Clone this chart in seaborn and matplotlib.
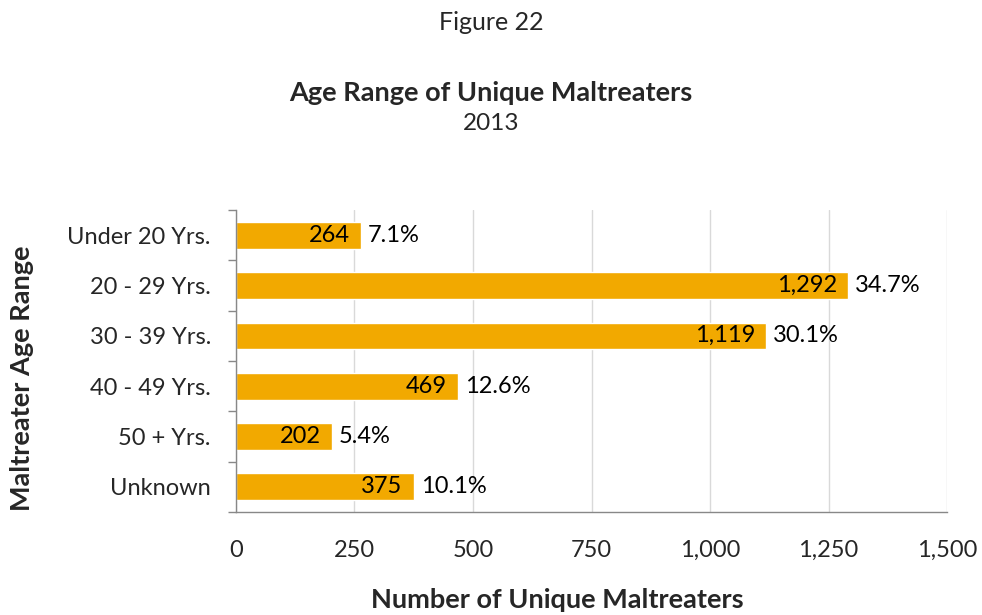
import matplotlib
matplotlib.use("Agg")
import matplotlib.pyplot as plt
import seaborn as sns
import pandas as pd
import numpy as np

categories = ["Under 20 Yrs.", "20 - 29 Yrs.", "30 - 39 Yrs.", "40 - 49 Yrs.", "50 + Yrs.", "Unknown"]
counts = [264, 1292, 1119, 469, 202, 375]
percents = ["7.1%", "34.7%", "30.1%", "12.6%", "5.4%", "10.1%"]
xticks = [0, 250, 500, 750, 1000, 1250, 1500]

sns.set_theme(style="white")
plt.rcParams['font.family'] = ['Lato', 'DejaVu Sans']

df = pd.DataFrame({"cat": categories, "count": counts})

fig = plt.figure(figsize=(9.82, 6.15), dpi=100)
ax = fig.add_axes([0.2403, 0.1675, 0.7241, 0.491])

sns.barplot(data=df, y="cat", x="count", color="#F2A900", width=0.53, ax=ax, saturation=1)

ax.set_xlim(0, 1500)
ax.set_ylim(5.5, -0.5)
ax.set_xticks(xticks)
ax.set_xticklabels([f"{v:,}" for v in xticks], fontsize=17)
ax.set_yticks(range(len(categories)))
ax.set_yticklabels(categories, fontsize=17)
ax.tick_params(axis='y', length=0, pad=18)
ax.tick_params(axis='x', length=6, width=1, color="#888888", direction='out', pad=14)

# boundary ticks on y axis
ax.set_yticks(np.arange(-0.5, 6.0, 1.0), minor=True)
ax.tick_params(axis='y', which='minor', length=6, width=1, color="#888888", direction='out', left=True)
ax.tick_params(axis='x', which='minor', bottom=False)

ax.xaxis.grid(True, color="#D9D9D9", linewidth=1)
ax.set_axisbelow(True)
for s in ["top", "right"]:
    ax.spines[s].set_visible(False)
for s in ["left", "bottom"]:
    ax.spines[s].set_color("#888888")
    ax.spines[s].set_linewidth(1)

for i, (c, p) in enumerate(zip(counts, percents)):
    ax.annotate(f"{c:,}", (c, i), xytext=(-8, 0), textcoords="offset points",
                ha="right", va="center", fontsize=17, color="black")
    ax.annotate(p, (c, i), xytext=(5, 0), textcoords="offset points",
                ha="left", va="center", fontsize=17, color="black")

ax.set_xlabel("")
ax.set_ylabel("")
fig.text(557/982, 1 - 600/615, "Number of Unique Maltreaters", ha="center", va="center",
         fontsize=19.5, fontweight="bold")
fig.text(22/982, 1 - 378/615, "Maltreater Age Range", ha="center", va="center",
         rotation=90, fontsize=19.5, fontweight="bold")

fig.text(0.5, 1 - 22/615, "Figure 22", ha="center", va="center", fontsize=18)
fig.text(0.5, 1 - 93/615, "Age Range of Unique Maltreaters", ha="center", va="center", fontsize=19.5, fontweight="bold")
fig.text(0.5, 1 - 123/615, "2013", ha="center", va="center", fontsize=17.5)

fig.savefig("out.png", dpi=100)
